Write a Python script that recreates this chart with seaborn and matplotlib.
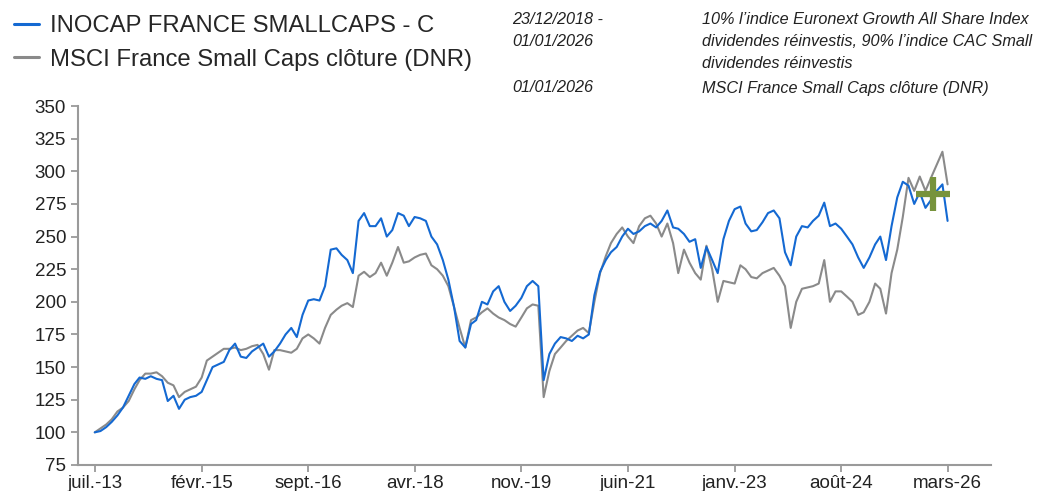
import pandas as pd
import numpy as np
import seaborn as sns
import matplotlib.pyplot as plt
from matplotlib.lines import Line2D

# Données (base 100, un point par mois, juil. 2013 -> mars 2026)
fonds = [100, 101, 104, 108, 113, 119, 128, 137, 142, 141, 143, 141, 140, 124, 128, 118,
         125, 127, 128, 131, 140, 150, 152, 154, 163, 168, 158, 157, 162, 165, 168, 158,
         162, 168, 175, 180, 173, 190, 201, 202, 201, 212, 240, 241, 236, 232, 222, 262,
         268, 258, 258, 264, 250, 255, 268, 266, 258, 265, 264, 262, 250, 244, 232, 217,
         196, 170, 165, 183, 186, 200, 198, 208, 212, 200, 193, 197, 203, 212, 216, 212,
         140, 160, 168, 173, 172, 170, 174, 172, 175, 205, 223, 232, 238, 242, 250, 256,
         252, 254, 258, 260, 257, 262, 270, 257, 256, 252, 246, 248, 226, 242, 232, 222,
         248, 262, 271, 273, 260, 254, 255, 261, 268, 270, 264, 238, 228, 250, 258, 257,
         262, 266, 276, 258, 260, 256, 250, 244, 234, 226, 234, 244, 250, 232, 258, 280,
         292, 289, 275, 284, 272, 278, 285, 290, 262]
msci = [100, 103, 106, 110, 116, 119, 124, 133, 140, 145, 145, 146, 143, 138, 136, 127,
        131, 133, 135, 142, 155, 158, 161, 164, 164, 165, 163, 164, 166, 167, 160, 148,
        163, 163, 162, 161, 164, 172, 175, 172, 168, 180, 190, 194, 197, 199, 196, 220,
        223, 219, 222, 230, 220, 230, 242, 230, 231, 234, 236, 237, 228, 225, 220, 212,
        196, 180, 165, 186, 188, 192, 195, 191, 188, 186, 183, 181, 188, 195, 198, 197,
        127, 147, 160, 165, 170, 174, 178, 180, 176, 200, 222, 235, 245, 252, 257, 250,
        245, 258, 264, 266, 260, 250, 260, 245, 222, 240, 230, 222, 217, 243, 225, 200,
        216, 215, 214, 228, 225, 219, 218, 222, 224, 226, 220, 212, 180, 200, 210, 211,
        212, 214, 232, 200, 208, 208, 204, 200, 190, 192, 200, 214, 210, 191, 222, 240,
        265, 295, 285, 296, 285, 295, 305, 315, 290]

tick_dates = ["2013-07-01", "2015-02-01", "2016-09-01", "2018-04-01", "2019-11-01",
              "2021-06-01", "2023-01-01", "2024-08-01", "2026-03-01"]
tick_labels = ["juil.-13", "févr.-15", "sept.-16", "avr.-18", "nov.-19",
               "juin-21", "janv.-23", "août-24", "mars-26"]

croix_date = "2025-12-13"
croix_valeur = 283

nom_fonds = "INOCAP FRANCE SMALLCAPS - C"
nom_msci = "MSCI France Small Caps clôture (DNR)"

mois = pd.date_range("2013-07-01", periods=len(fonds), freq="MS")
df = pd.DataFrame({"Date": mois, nom_fonds: fonds, nom_msci: msci})
df_long = df.melt(id_vars="Date", var_name="Serie", value_name="Valeur")

sns.set_style("ticks")
plt.rcParams["font.family"] = ["Liberation Sans", "DejaVu Sans"]

fig = plt.figure(figsize=(10.37, 4.91), dpi=100)
ax = fig.add_axes([0.0752, 0.053, 0.88, 0.731])

sns.lineplot(data=df_long, x="Date", y="Valeur", hue="Serie",
             hue_order=[nom_msci, nom_fonds],
             palette={nom_fonds: "#1469d2", nom_msci: "#8a8a8a"},
             linewidth=1.5, ax=ax, legend=False)

ax.plot(pd.Timestamp(croix_date), croix_valeur, marker="+", markersize=24,
        markeredgewidth=4.5, color="#77933c", linestyle="none")

ax.set_ylim(75, 350)
ax.set_yticks(np.arange(75, 351, 25))
ax.set_xlim(pd.Timestamp("2013-04-01"), pd.Timestamp("2026-10-20"))
ax.set_xticks([pd.Timestamp(d) for d in tick_dates])
ax.set_xticklabels(tick_labels)
ax.tick_params(axis="both", colors="#9a9a9a", labelcolor="#222222", length=5, width=1.3)
ax.tick_params(axis="y", labelsize=13.5)
ax.tick_params(axis="x", labelsize=13.5, pad=2)
ax.set_xlabel("")
ax.set_ylabel("")
for s in ["left", "bottom"]:
    ax.spines[s].set_color("#9a9a9a")
    ax.spines[s].set_linewidth(1.5)
sns.despine(ax=ax)

# Légende en haut à gauche
poignees = [Line2D([], [], color="#1469d2", lw=2.2), Line2D([], [], color="#8a8a8a", lw=2.2)]
fig.legend(poignees, [nom_fonds, nom_msci], loc="upper left", bbox_to_anchor=(-0.007, 1.013),
           frameon=False, fontsize=17.2, handlelength=1.05, handletextpad=0.45,
           labelspacing=0.48)

# Texte de l'indice de référence
texte = dict(fontsize=11.7, style="italic", color="#222222", va="center")
fig.text(512 / 1037, 1 - 20 / 491, "23/12/2018 -", **texte)
fig.text(512 / 1037, 1 - 42 / 491, "01/01/2026", **texte)
fig.text(512 / 1037, 1 - 88 / 491, "01/01/2026", **texte)
fig.text(702 / 1037, 1 - 20 / 491, "10% l’indice Euronext Growth All Share Index", **texte)
fig.text(702 / 1037, 1 - 42 / 491, "dividendes réinvestis, 90% l’indice CAC Small", **texte)
fig.text(702 / 1037, 1 - 64 / 491, "dividendes réinvestis", **texte)
fig.text(702 / 1037, 1 - 88 / 491, "MSCI France Small Caps clôture (DNR)", **texte)

plt.savefig("out.png", dpi=100)
